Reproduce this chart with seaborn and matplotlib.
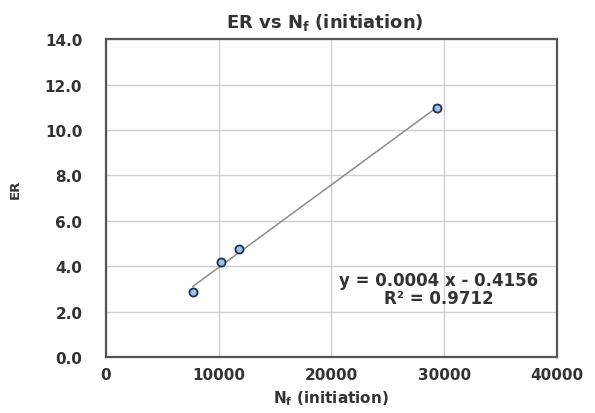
import numpy as np
import pandas as pd
import matplotlib
matplotlib.use("Agg")
import matplotlib.pyplot as plt
import seaborn as sns

# Cycles to crack initiation and the corresponding ER values
cycles = [7690, 10200, 11820, 29380]
er = [2.85, 4.17, 4.76, 10.96]

x_ticks = [0, 10000, 20000, 30000, 40000]
y_ticks = [0.0, 2.0, 4.0, 6.0, 8.0, 10.0, 12.0, 14.0]

fit_label = "y = 0.0004 x - 0.4156\nR² = 0.9712"

df = pd.DataFrame({"Nf": cycles, "ER": er})

sns.set_theme(style="white")
plt.rcParams["font.family"] = ["DejaVu Sans"]
plt.rcParams["font.weight"] = "bold"
plt.rcParams["mathtext.default"] = "bf"

fig = plt.figure(figsize=(5.95, 4.14), dpi=100)
ax = fig.add_axes([0.178, 0.135, 0.758, 0.768])

# Linear trendline over the data range
slope, intercept = np.polyfit(df["Nf"], df["ER"], 1)
xs = np.array([df["Nf"].min(), df["Nf"].max()])
ax.plot(xs, slope * xs + intercept, color="#8c8c8c", lw=1.1, zorder=2)

sns.scatterplot(data=df, x="Nf", y="ER", ax=ax, s=34, color="#9dc3e6",
                edgecolor="#1f3050", linewidth=1.3, zorder=3)

ax.set_xlim(0, 40000)
ax.set_ylim(0, 14)
ax.set_xticks(x_ticks)
ax.set_xticklabels([str(t) for t in x_ticks])
ax.set_yticks(y_ticks)
ax.set_yticklabels([f"{t:.1f}" for t in y_ticks])
ax.grid(True, color="#d0d0d0", lw=1.0, zorder=0)
ax.set_axisbelow(True)

for sp in ax.spines.values():
    sp.set_color("#555555")
    sp.set_linewidth(1.6)

ax.tick_params(axis="x", labelsize=11, colors="#333333", length=0, pad=7)
ax.tick_params(axis="y", labelsize=11, colors="#333333", length=0, pad=17)
for lab in ax.get_xticklabels() + ax.get_yticklabels():
    lab.set_fontweight("bold")

ax.set_xlabel("N$_f$ (initiation)", fontsize=11, fontweight="bold",
              color="#333333", labelpad=5)
ax.set_ylabel("ER", fontsize=9.5, fontweight="bold", color="#333333")
ax.yaxis.set_label_coords(-0.186, 0.53)
ax.set_title("ER vs N$_f$ (initiation)", fontsize=13, fontweight="bold",
             color="#333333", pad=9, x=0.485)

ax.text(29500, 3.0, fit_label, ha="center", va="center", fontsize=12,
        fontweight="bold", color="#333333", linespacing=1.0)

fig.savefig("out.png", dpi=100)
